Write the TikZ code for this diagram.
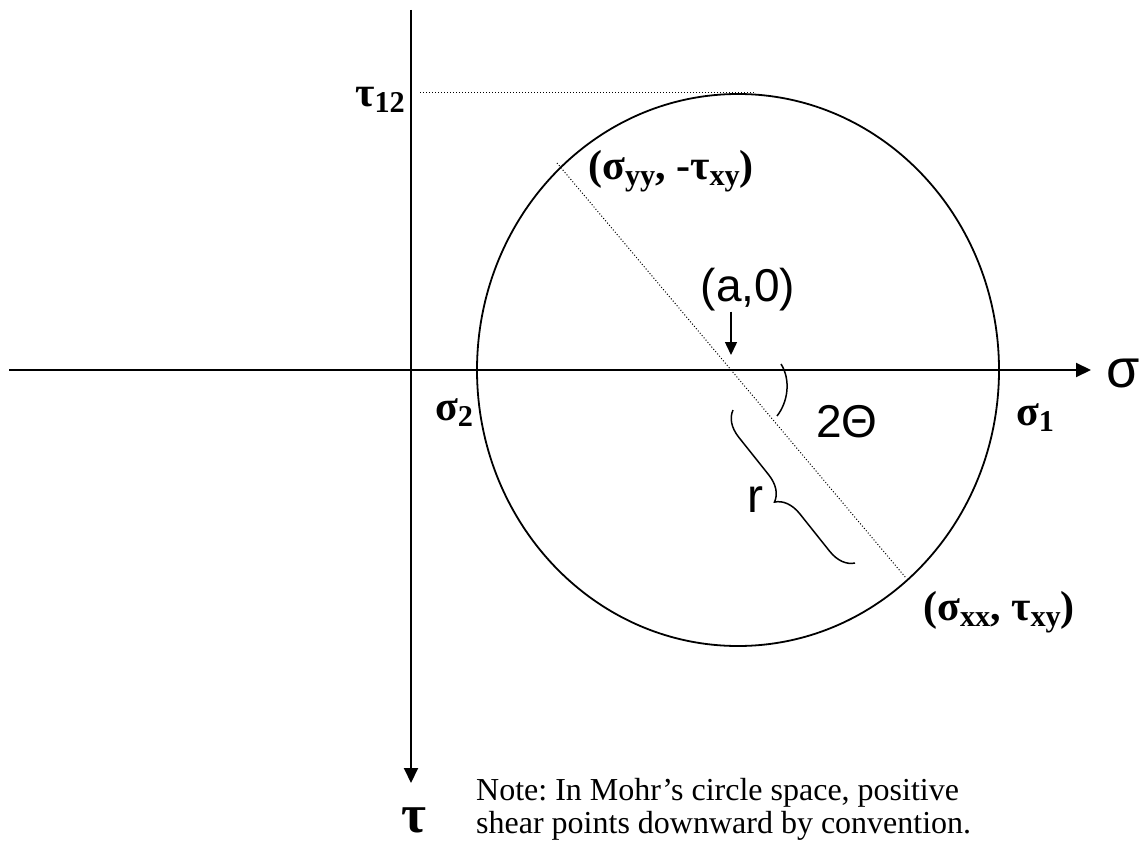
\documentclass[tikz,border=0pt]{standalone}
\usepackage{fontspec}
\usepackage{graphicx}
\setmainfont{Liberation Serif}
\newfontfamily\sansf{Liberation Sans}
\usetikzlibrary{arrows.meta,decorations.pathreplacing}
\newcommand\dn[1]{\raisebox{-0.14em}{\scalebox{0.72}{#1}}}
\frenchspacing
\begin{document}
\begin{tikzpicture}[x=1pt,y=-1pt,
  axis/.style={line width=2pt,-{Triangle[length=15pt,width=14pt]}},
  guide/.style={line width=1pt,dash pattern=on 1pt off 2pt},
  blab/.style={font=\fontsize{42}{42}\selectfont\bfseries,inner sep=0pt},
  slab/.style={font=\sansf\fontsize{46}{46}\selectfont,inner sep=0pt},
  note/.style={font=\fontsize{32}{32}\selectfont,inner sep=0pt,anchor=base west},
  thin/.style={line width=1.5pt}]
\useasboundingbox (0,0) rectangle (1145,842);
\fill[white] (0,0) rectangle (1145,842);
% coordinates
\coordinate (xL) at (9,370);
\coordinate (xR) at (1091,370);
\coordinate (yT) at (411,10);
\coordinate (yB) at (411,783);
\coordinate (C) at (738,370);
\coordinate (Pt) at (731,355);
\coordinate (Q1) at (557,163);
\coordinate (Q2) at (906,578);
\coordinate (T0) at (420,93);
\coordinate (T1) at (755,93);
\coordinate (bA) at (733,410);
\coordinate (bB) at (855,563);
\coordinate (arcA) at (781,364);
\coordinate (arcB) at (777,416);
% axes and circle
\draw[axis] (xL) -- (xR);
\draw[axis] (yT) -- (yB);
\draw[line width=1.8pt] (C) ellipse [x radius=261, y radius=276];
\draw[guide] (T0) -- (T1);
\draw[guide] (Q1) -- (Q2);
% labels
\node[blab] (t12) at (380,100) {τ\dn{12}};
\node[blab] (pyy) at (671,171) {(σ\dn{yy}, -τ\dn{xy})};
\node[slab] (alab) at (748,290) {(a,0)};
\node[font=\sansf\fontsize{54}{54}\selectfont,inner sep=0pt] (sig) at (1123,373) {σ};
\node[blab] (s2) at (454,413) {σ\dn{2}};
\node[blab] (s1) at (1035,418) {σ\dn{1}};
\node[slab] (th) at (847,422) {2Θ};
\node[font=\sansf\fontsize{48}{48}\selectfont,inner sep=0pt] (rlab) at (755,500) {r};
\node[blab] (pxx) at (999,612) {(σ\dn{xx}, τ\dn{xy})};
\node[font=\fontsize{54}{54}\selectfont\bfseries,inner sep=0pt] (tau) at (414,820) {τ};
\node[note] (n1) at (476,800) {Note: In Mohr’s circle space, positive};
\node[note] (n2) at (476,833) {shear points downward by convention.};
% (a,0) arrow
\draw[thin,-{Triangle[length=13pt,width=12pt]}] (alab.south -| Pt) -- (Pt);
% angle arc
\draw[thin] (arcA) .. controls (791,380) and (788,402) .. (arcB);
% radius brace
\draw[thin,decorate,decoration={brace,amplitude=25pt}] (bB) -- (bA);
\end{tikzpicture}
\end{document}
